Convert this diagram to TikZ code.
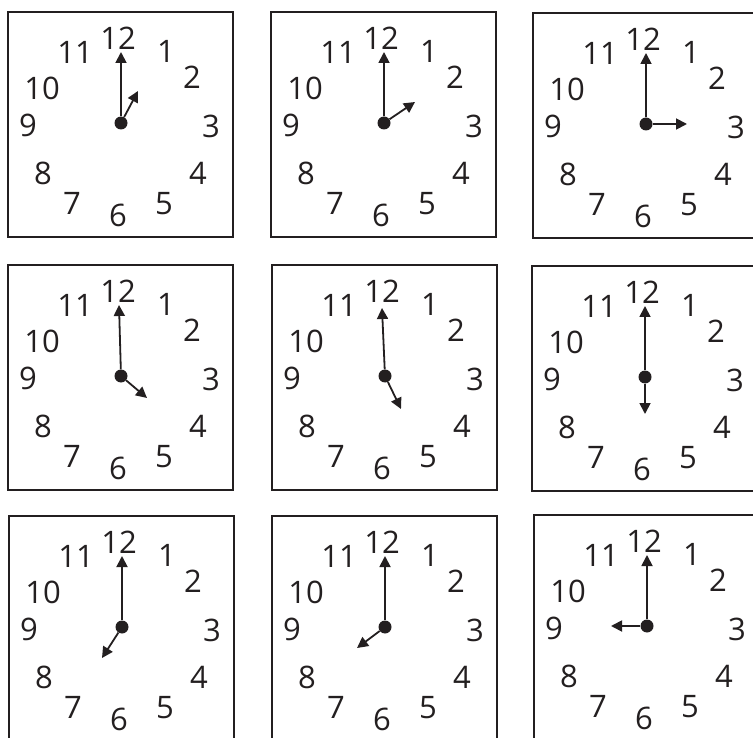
\documentclass[tikz,border=0pt]{standalone}
\usepackage{fontspec}
\setmainfont{Open Sans}
\usetikzlibrary{arrows.meta}
\definecolor{ink}{HTML}{231F20}

\tikzset{
  clockbox/.style={draw=ink, line width=2pt, minimum width=225pt, minimum height=225pt, inner sep=0pt},
  num/.style={inner sep=0pt, text=ink, font=\fontsize{31}{31}\selectfont},
  hub/.style={circle, fill=ink, inner sep=0pt, minimum size=13pt},
  hand/.style={draw=ink, line width=1.8pt, -{Triangle[length=11pt,width=11pt]}},
}

\begin{document}
\begin{tikzpicture}[x=1pt, y=-1pt]
  \useasboundingbox (0,0) rectangle (753,738);
  % --- Clocks: index / centre / hour-hand tip / minute-hand tip ---
  \foreach \n/\cx/\cy/\hx/\hy/\mx/\my in {
      1/121/123/17/-32/0/-71,  2/384/123/31/-21/0/-71,  3/646/124/41/0/0/-71,
      4/121/376/26/22/-2/-71,  5/385/376/16/33/-3/-68,  6/645/377/0/37/0/-71,
      7/122/627/-20/31/0/-71,  8/385/627/-28/21/0/-71,  9/647/626/-36/0/0/-71}{
    \node[clockbox] (box\n) at ({\cx-0.5},{\cy+1.5}) {};
    % numbers round the face
    \foreach \t/\dx/\dy in {12/-3/-85, 1/45/-72, 2/71/-46, 3/90/3, 4/77/50, 5/43/81,
                            6/-3/92, 7/-49/80, 8/-78/50, 9/-93/2, 10/-79/-35, 11/-46/-71}
      \node[num] (num\n-\t) at ({\cx+\dx},{\cy+\dy}) {\t};
    % hands
    \node[hub] (hub\n) at (\cx,\cy) {};
    \coordinate (min\n) at ({\cx+\mx},{\cy+\my});
    \coordinate (hour\n) at ({\cx+\hx},{\cy+\hy});
    \draw[hand] (hub\n) -- (min\n);
    \draw[hand] (hub\n) -- (hour\n);
  }
\end{tikzpicture}
\end{document}
